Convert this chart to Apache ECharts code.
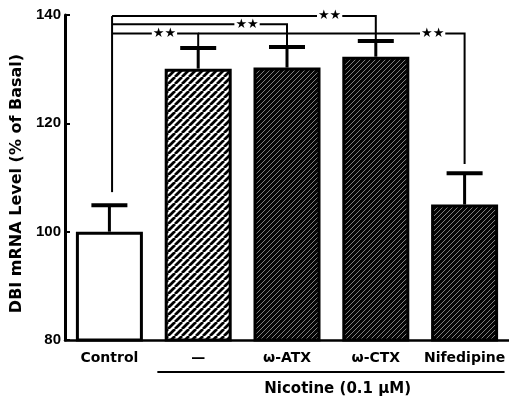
<!DOCTYPE html>
<html><head><meta charset="utf-8">
<script src="https://cdn.jsdelivr.net/npm/echarts@6/dist/echarts.min.js"></script>
<style>html,body{margin:0;padding:0;background:#fff}#c{width:509px;height:405px}</style>
</head><body><div id="c"></div>
<script>
// ---- data ----
const categories = ['Control', '—', 'ω-ATX', 'ω-CTX', 'Nifedipine'];
const meanValues = [100, 130.1, 130.3, 132.3, 105];
const errorTops = [104.9, 133.9, 134.1, 135.2, 110.8];
const yTicks = [80, 100, 120, 140];
// significance brackets (category positions / values)
const bracketFrom = [0.03, 0.03, 0.03, 1];
const bracketTo = [3, 2, 1, 4];
const bracketLevel = [139.8, 138.3, 136.6, 136.6];
const bracketDrop = [135.4, 134.3, 134.0, 112.5];
const starPos = [2.48, 1.55, 0.62, 3.64];
const starText = ['★★', '★★', '★★', '★★'];
const controlLine = [0.03, 139.8, 107.3];
const groupSpan = [0.54, 4.45];
const groupLabelPos = 2.57;
const groupLabel = 'Nicotine (0.1 µM)';
const yName = 'DBI mRNA Level (% of Basal)';

// ---- styles ----
function stripe(size, bg, fg, lw) {
  const c = document.createElement('canvas');
  c.width = c.height = size;
  const g = c.getContext('2d');
  g.fillStyle = bg; g.fillRect(0, 0, size, size);
  g.strokeStyle = fg; g.lineWidth = lw;
  g.beginPath();
  for (const k of [-1, 0, 1]) { g.moveTo(k * size, size); g.lineTo(k * size + size, 0); }
  g.stroke();
  return { image: c, repeat: 'repeat' };
}
const fills = [
  '#ffffff',
  stripe(7, '#ffffff', '#000000', 2.8),
  stripe(5, '#050505', 'rgba(255,255,255,0.62)', 0.8),
  stripe(5, '#050505', 'rgba(255,255,255,0.62)', 0.8),
  stripe(5, '#050505', 'rgba(255,255,255,0.62)', 0.8)
];

const chart = echarts.init(document.getElementById('c'), null, { renderer: 'canvas' });
const yMin = yTicks[0], yMax = yTicks[yTicks.length - 1];

chart.setOption({
  animation: false,
  backgroundColor: '#fff',
  grid: { left: 65, right: 0, top: 15, bottom: 65 },
  xAxis: [
    {
      type: 'category', data: categories, boundaryGap: true,
      axisLine: { onZero: false, lineStyle: { color: '#000', width: 2.5 } },
      axisTick: { show: false },
      axisLabel: { color: '#000', fontWeight: 'bold', fontSize: 14, fontFamily: 'DejaVu Sans', margin: 11, interval: 0 }
    },
    { type: 'value', min: -0.5, max: categories.length - 0.5, show: false }
  ],
  yAxis: {
    type: 'value', min: yMin, max: yMax, interval: 20,
    name: yName, nameLocation: 'middle', nameGap: 35,
    nameTextStyle: { color: '#000', fontWeight: 'bold', fontSize: 16, fontFamily: 'DejaVu Sans', padding: [0, 12, 0, 0] },
    axisLine: { show: true, onZero: false, lineStyle: { color: '#000', width: 3 } },
    axisTick: { show: true, inside: true, length: 5, lineStyle: { color: '#000', width: 2 } },
    splitLine: { show: false },
    axisLabel: { color: '#000', fontWeight: 'bold', fontSize: 15, fontFamily: 'Liberation Sans', margin: 4 }
  },
  series: [
    {
      type: 'bar', xAxisIndex: 0, barWidth: 67,
      data: meanValues.map((v, i) => ({ value: v, itemStyle: { color: fills[i] } })),
      itemStyle: { borderColor: '#000', borderWidth: 3 }
    },
    {
      type: 'custom', xAxisIndex: 1, yAxisIndex: 0, clip: false, z: 3,
      data: meanValues.map((v, i) => [i, v, errorTops[i]]),
      renderItem(params, api) {
        const x = api.value(0);
        const p0 = api.coord([x, api.value(1)]);
        const p1 = api.coord([x, api.value(2)]);
        return { type: 'group', children: [
          { type: 'line', shape: { x1: p0[0], y1: p0[1], x2: p1[0], y2: p1[1] }, style: { stroke: '#000', lineWidth: 3 } },
          { type: 'line', shape: { x1: p1[0] - 18, y1: p1[1], x2: p1[0] + 18, y2: p1[1] }, style: { stroke: '#000', lineWidth: 4 } }
        ] };
      }
    },
    {
      type: 'custom', xAxisIndex: 1, yAxisIndex: 0, clip: false, z: 4,
      data: bracketFrom.map((f, i) => [f, bracketTo[i], bracketLevel[i], bracketDrop[i], starPos[i], i]),
      renderItem(params, api) {
        const a = api.coord([api.value(0), api.value(2)]);
        const b = api.coord([api.value(1), api.value(2)]);
        const c = api.coord([api.value(1), api.value(3)]);
        const s = api.coord([api.value(4), api.value(2)]);
        return { type: 'group', children: [
          { type: 'polyline', shape: { points: [a, b, c] }, style: { stroke: '#000', lineWidth: 2, fill: null } },
          { type: 'text', x: s[0], y: s[1], style: { text: starText[api.value(5)], fill: '#000', font: 'bold 13px DejaVu Sans', align: 'center', verticalAlign: 'middle', backgroundColor: '#fff', padding: [0, 1] } }
        ] };
      }
    },
    {
      type: 'custom', xAxisIndex: 1, yAxisIndex: 0, clip: false, z: 4,
      data: [[controlLine[0], controlLine[1], controlLine[2]]],
      renderItem(params, api) {
        const a = api.coord([api.value(0), api.value(1)]);
        const b = api.coord([api.value(0), api.value(2)]);
        return { type: 'line', shape: { x1: a[0], y1: a[1], x2: b[0], y2: b[1] }, style: { stroke: '#000', lineWidth: 2 } };
      }
    },
    {
      type: 'custom', xAxisIndex: 1, yAxisIndex: 0, clip: false, z: 4,
      data: [[groupSpan[0], groupSpan[1], groupLabelPos]],
      renderItem(params, api) {
        const a = api.coord([api.value(0), yMin]);
        const b = api.coord([api.value(1), yMin]);
        const t = api.coord([api.value(2), yMin]);
        return { type: 'group', children: [
          { type: 'line', shape: { x1: a[0], y1: a[1] + 32, x2: b[0], y2: b[1] + 32 }, style: { stroke: '#000', lineWidth: 2 } },
          { type: 'text', x: t[0], y: t[1] + 49, style: { text: groupLabel, fill: '#000', font: 'bold 15px DejaVu Sans', align: 'center', verticalAlign: 'middle' } }
        ] };
      }
    }
  ]
});
</script></body></html>
